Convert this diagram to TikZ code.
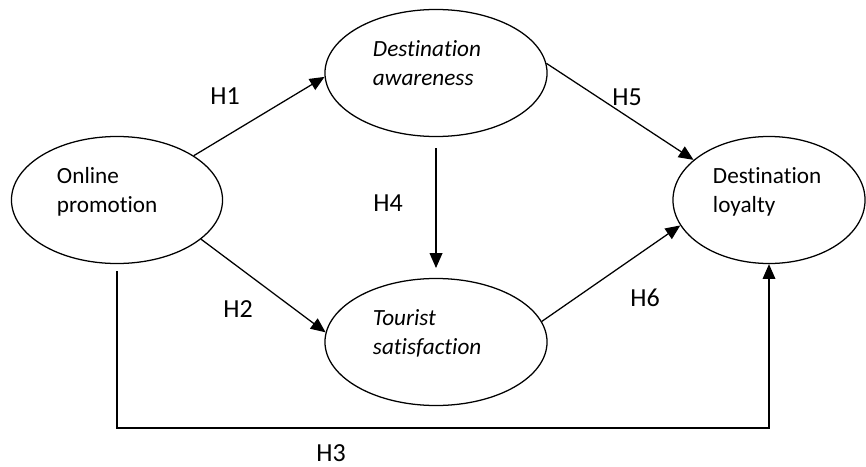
\documentclass[tikz,border=0pt]{standalone}
\usepackage{fontspec}
\setmainfont{Carlito}[Ligatures=CommonOff]
\usetikzlibrary{shapes.geometric,arrows.meta}
\newcommand{\liftup}{\rule[-14pt]{0pt}{0pt}}
\begin{document}
\begin{tikzpicture}[x=0.025cm,y=-0.025cm,
        construct/.style={ellipse, draw, line width=0.9pt, align=left,
                      inner sep=0pt, minimum height=3.175cm,
                      font=\fontsize{16.5}{20.6}\selectfont},
        arrow/.style={-{Triangle[length=10.5pt,width=9pt]},line width=0.9pt},
        hyp/.style={font=\fontsize{18.5}{22}\selectfont, inner sep=1pt}
    ]
    \useasboundingbox (0,0) rectangle (866,466);

        % Constructos del modelo
        \node[construct, minimum width=5.275cm, text width=3cm] (promo) at (117,200) {Online \\ promotion\liftup};
        \node[construct, minimum width=5.55cm, text width=3.15cm] (aware) at (436,73) {\itshape Destination \\ awareness\liftup};
        \node[construct, minimum width=5.55cm, text width=3.15cm] (satis) at (436,342) {\itshape Tourist \\ satisfaction\liftup};
        \node[construct, minimum width=4.8cm, text width=2.8cm] (loyal) at (769,200) {Destination \\ loyalty\liftup};
        \coordinate (h3low) at (117,428);

        % Hipotesis
        \draw[arrow] (promo.30) -- (aware.182);
        \draw[arrow] (promo.-25) -- (satis.175);
        \draw[arrow] ([yshift=-8pt]aware.south) -- ([yshift=7pt]satis.north);
        \draw[arrow] (aware.5) -- (loyal.152);
        \draw[arrow] (satis.11) -- (loyal.196);
        \draw[arrow] ([yshift=-5pt]promo.south) -- (h3low) -| (loyal.south);

        \node[hyp] (h1) at (225,96) {H1};
        \node[hyp] (h2) at (238,309) {H2};
        \node[hyp] (h3) at (331,453) {H3};
        \node[hyp] (h4) at (388,203) {H4};
        \node[hyp] (h5) at (627,97) {H5};
        \node[hyp] (h6) at (645,298) {H6};

    \end{tikzpicture}
\end{document}
